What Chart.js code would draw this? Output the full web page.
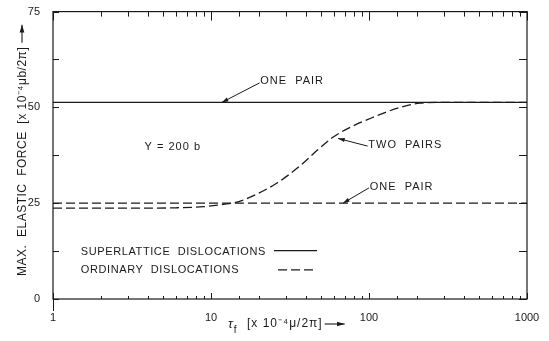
<!DOCTYPE html>
<html>
<head>
<meta charset="utf-8">
<script src="https://cdn.jsdelivr.net/npm/chart.js@4"></script>
<style>
  html,body{margin:0;padding:0;background:#fff;}
  canvas{display:block;}
</style>
</head>
<body>
<canvas id="c" width="549" height="341"></canvas>
<script>
// max elastic force vs applied stress (log scale)
const superX=[1,1000];
const superY=[51.3,51.3];
const ordOneX=[1,1000];
const ordOneY=[25,25];
const ordTwoX=[1,3,6,9,12,15,18,26,37,47,59,76,106,157,210,300,1000];
const ordTwoY=[23.7,23.7,23.8,24.1,24.7,25.4,26.7,30.2,34.9,38.8,42.2,44.8,47.4,50,51.1,51.3,51.3];
const yTicks=[0,25,50,75];
const xLabels=[1,10,100,1000];

const INK='#1a1a1a';
const FONT='"Liberation Sans", Arial, sans-serif';
const pts=(xs,ys)=>xs.map((x,i)=>({x,y:ys[i]}));

const ticksInward={
  id:'ticksInward',
  afterDraw(chart){
    const {ctx,chartArea:a,scales:{x,y}}=chart;
    ctx.save();
    ctx.strokeStyle=INK;ctx.lineWidth=1.2;
    ctx.strokeRect(a.left,a.top,a.right-a.left,a.bottom-a.top);
    ctx.lineWidth=1;
    x.ticks.forEach(t=>{
      const px=Math.round(x.getPixelForValue(t.value))+0.5;
      const major=xLabels.includes(t.value);
      const lb=major?6:3, lt=major?9:5;
      ctx.beginPath();
      ctx.moveTo(px,a.bottom);ctx.lineTo(px,a.bottom-lb);
      ctx.moveTo(px,a.top);ctx.lineTo(px,a.top+lt);
      ctx.stroke();
    });
    y.ticks.forEach(t=>{
      const py=Math.round(y.getPixelForValue(t.value))+0.5;
      ctx.beginPath();
      ctx.moveTo(a.left,py);ctx.lineTo(a.left+6,py);
      ctx.moveTo(a.right,py);ctx.lineTo(a.right-8,py);
      ctx.stroke();
    });
    // tick stub below the origin
    ctx.beginPath();ctx.moveTo(a.left+0.5,a.bottom);ctx.lineTo(a.left+0.5,a.bottom+12);ctx.stroke();
    ctx.restore();
  }
};

function arrow(ctx,x0,y0,x1,y1,L=7){
  ctx.beginPath();ctx.moveTo(x0,y0);ctx.lineTo(x1,y1);ctx.stroke();
  const ang=Math.atan2(y1-y0,x1-x0),W=0.3;
  ctx.beginPath();
  ctx.moveTo(x1,y1);
  ctx.lineTo(x1-L*Math.cos(ang-W),y1-L*Math.sin(ang-W));
  ctx.lineTo(x1-L*Math.cos(ang+W),y1-L*Math.sin(ang+W));
  ctx.closePath();ctx.fill();
}

const notes={
  id:'notes',
  afterDraw(chart){
    const {ctx,scales:{x,y}}=chart;
    const X=v=>x.getPixelForValue(v), Y=v=>y.getPixelForValue(v);
    ctx.save();
    ctx.fillStyle=INK;ctx.strokeStyle=INK;ctx.lineWidth=1;
    ctx.font='11px '+FONT;ctx.textBaseline='middle';ctx.textAlign='left';
    ctx.letterSpacing='1px';

    ctx.fillText('ONE  PAIR',X(20.5),Y(56.9));
    arrow(ctx,X(20.3),Y(56.4),X(11.7),Y(superY[0]));
    ctx.fillText('TWO  PAIRS',X(99),Y(40.1));
    arrow(ctx,X(98),Y(39.9),X(63.7),Y(41.9));
    ctx.fillText('ONE  PAIR',X(101),Y(29.2));
    arrow(ctx,X(100),Y(29),X(68.4),Y(ordOneY[0]));
    ctx.fillText('Y = 200 b',X(3.8),Y(39.8));

    ctx.letterSpacing='0.6px';
    ctx.fillText('SUPERLATTICE  DISLOCATIONS',X(1.5),Y(12.4));
    ctx.fillText('ORDINARY  DISLOCATIONS',X(1.5),Y(7.5));
    ctx.lineWidth=1.3;
    ctx.beginPath();ctx.moveTo(274,Y(12.6));ctx.lineTo(317,Y(12.6));ctx.stroke();
    ctx.setLineDash([9,4]);
    ctx.beginPath();ctx.moveTo(278,Y(7.6));ctx.lineTo(317,Y(7.6));ctx.stroke();
    ctx.setLineDash([]);

    // y axis title, reading upwards, with arrow
    ctx.font='12px '+FONT;ctx.lineWidth=1.1;
    ctx.letterSpacing='0.5px';
    ctx.save();
    ctx.translate(23,276);
    ctx.rotate(-Math.PI/2);
    const yt='MAX.  ELASTIC  FORCE  [x 10\u207B\u2074\u03BCb/2\u03C0]';
    ctx.fillText(yt,0,0);
    const yw=ctx.measureText(yt).width;
    arrow(ctx,yw+4,-1,yw+22,-1,8);
    ctx.restore();

    // x axis title: tau with subscript f
    ctx.letterSpacing='1px';
    let tx=228;const ty=324;
    ctx.font='italic 13px '+FONT;ctx.fillText('\u03C4',tx,ty);
    tx+=ctx.measureText('\u03C4').width;
    ctx.font='10px '+FONT;ctx.fillText('f',tx,ty+6);
    ctx.font='12px '+FONT;
    const xt='[x 10\u207B\u2074\u03BC/2\u03C0]';
    ctx.fillText(xt,247,ty);
    const xw=ctx.measureText(xt).width;
    arrow(ctx,247+xw+2,ty,247+xw+22,ty,8);
    ctx.restore();
  }
};

new Chart(document.getElementById('c'),{
  type:'scatter',
  data:{datasets:[
    {data:pts(superX,superY),showLine:true,borderColor:INK,borderWidth:1.4,pointRadius:0},
    {data:pts(ordOneX,ordOneY),showLine:true,borderColor:INK,borderWidth:1.3,borderDash:[9,4],pointRadius:0},
    {data:pts(ordTwoX,ordTwoY),showLine:true,borderColor:INK,borderWidth:1.3,borderDash:[9,4],pointRadius:0,cubicInterpolationMode:'monotone'}
  ]},
  options:{
    responsive:false,animation:false,
    layout:{padding:{top:10,right:22,left:0,bottom:0}},
    plugins:{legend:{display:false},tooltip:{enabled:false}},
    scales:{
      x:{type:'logarithmic',min:1,max:1000,
        grid:{display:false},border:{display:false},
        afterFit(s){s.height=42;},
        ticks:{autoSkip:false,maxRotation:0,padding:4,color:INK,font:{family:FONT,size:11},
          callback:v=>xLabels.includes(v)?String(v):''}},
      y:{min:0,max:75,
        grid:{display:false},border:{display:false},
        afterFit(s){s.width=53;},
        ticks:{stepSize:12.5,padding:5,color:INK,font:{family:FONT,size:11},
          callback:v=>yTicks.includes(v)?String(v):''}}
    }
  },
  plugins:[ticksInward,notes]
});
</script>
</body>
</html>
